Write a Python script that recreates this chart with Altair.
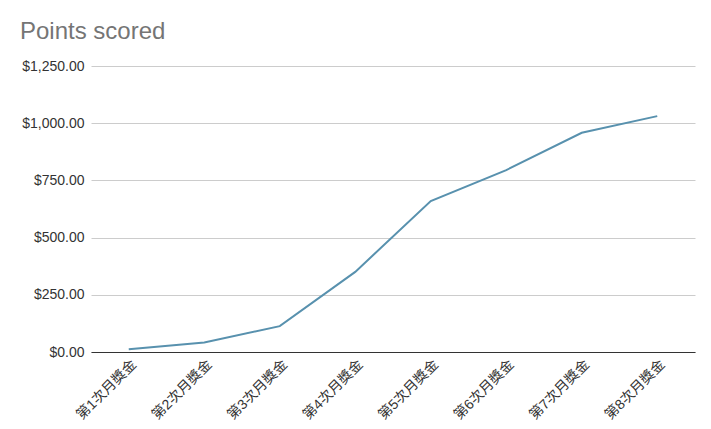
import altair as alt
import pandas as pd

categories = ["第1次月獎金", "第2次月獎金", "第3次月獎金", "第4次月獎金",
              "第5次月獎金", "第6次月獎金", "第7次月獎金", "第8次月獎金"]
values = [12, 42, 113, 350, 660, 795, 958, 1031]

df = pd.DataFrame({"category": categories, "value": values})

FONT = 'Arial, "Liberation Sans", "Noto Sans CJK TC", sans-serif'

chart = alt.Chart(df).mark_line(color="#5891ae", strokeWidth=2).encode(
    x=alt.X("category:N", sort=categories,
            scale=alt.Scale(paddingOuter=0.5),
            axis=alt.Axis(title=None, labelAngle=-45, labelAlign="right",
                          labelBaseline="middle", ticks=False,
                          domainColor="#333333", domainWidth=1,
                          labelFontSize=14, labelColor="#333333",
                          labelPadding=10, labelOffset=5,
                          grid=False, labelFont=FONT)),
    y=alt.Y("value:Q", scale=alt.Scale(domain=[0, 1250], nice=False),
            axis=alt.Axis(title=None, format="$,.2f", values=[0, 250, 500, 750, 1000, 1250],
                          ticks=False, domain=False, gridColor="#cccccc",
                          labelFontSize=14, labelColor="#333333",
                          labelPadding=7, labelFont=FONT)),
).properties(
    width=604, height=286,
    title=alt.TitleParams("Points scored", anchor="start", frame="group", fontSize=24,
                          font=FONT, color="#757575", fontWeight="normal",
                          dx=-71, dy=-11),
    autosize=alt.AutoSizeParams(type="none"),
    padding={"left": 83, "top": 58, "right": 8, "bottom": 77},
).configure_view(stroke=None)

chart.save("out.html", embed_options={"renderer": "svg", "actions": False})
